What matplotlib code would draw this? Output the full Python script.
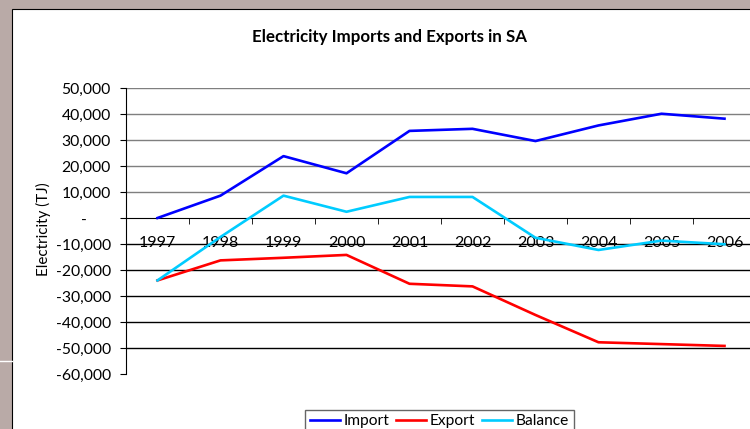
import numpy as np
import matplotlib
matplotlib.use("Agg")
import matplotlib.pyplot as plt
from matplotlib.ticker import FuncFormatter
from matplotlib.patches import Rectangle
from matplotlib.lines import Line2D

years = [1997, 1998, 1999, 2000, 2001, 2002, 2003, 2004, 2005, 2006]
imports = [0, 8600, 23800, 17200, 33500, 34300, 29600, 35600, 40100, 38200]
exports = [-24000, -16300, -15300, -14200, -25300, -26300, -37300, -47800, -48500, -49200]
balance = [-24000, -7300, 8600, 2400, 8100, 8100, -7600, -12300, -8700, -10100]

plt.rcParams['font.family'] = ['Lato', 'DejaVu Sans']

W, H = 750, 429
fig = plt.figure(figsize=(W / 100, H / 100), dpi=100)
fig.patch.set_facecolor('#b9aaa7')

# white chart area with thin black border (runs off the right/bottom edge)
fig.patches.append(Rectangle((12 / W, -0.1), 1.0, 1.1 - 9 / H, transform=fig.transFigure,
                             facecolor='white', edgecolor='black', lw=0.8, zorder=-5))
fig.add_artist(Line2D([0, 12 / W], [1 - 361 / H] * 2, color='white', lw=1, zorder=-4))

ax = fig.add_axes([126 / W, 1 - 374 / H, 630 / W, 286 / H])
ax.set_facecolor('none')

x = np.arange(len(years)) + 0.5
ax.plot(x, imports, color='#0000ff', lw=1.9, label='Import', zorder=3)
ax.plot(x, exports, color='#ff0000', lw=1.9, label='Export', zorder=3)
ax.plot(x, balance, color='#00ccff', lw=1.9, label='Balance', zorder=3)

ax.set_xlim(0, 10)
ax.set_ylim(-60000, 50000)
yt = list(range(-60000, 50001, 10000))
ax.set_yticks(yt)
ax.yaxis.set_major_formatter(FuncFormatter(lambda v, p: '-      ' if v == 0 else f'{v:,.0f}'))
for v in yt:
    if v != 0 and v != -60000:
        ax.axhline(v, color='#7f7f7f' if v > 0 else 'black', lw=1.0, zorder=1)

for s in ['top', 'right']:
    ax.spines[s].set_visible(False)
ax.spines['left'].set_color('black')
ax.spines['bottom'].set_position(('data', 0))
ax.spines['bottom'].set_color('black')

ax.set_xticks(x)
ax.set_xticklabels([str(y) for y in years])
ax.set_xticks(np.arange(0, 11), minor=True)
ax.tick_params(axis='x', which='major', length=0, pad=13, labelsize=11.5)
ax.tick_params(axis='x', which='minor', length=4, direction='out', color='black')
ax.tick_params(axis='y', length=4, direction='out', pad=7, labelsize=11.3, color='black')

fig.text(390 / W, 1 - 37 / H, 'Electricity Imports and Exports in SA',
         ha='center', va='center', fontsize=12.2, weight='bold')
fig.text(43 / W, 1 - 229 / H, 'Electricity (TJ)', rotation=90,
         ha='center', va='center', fontsize=11)

leg = fig.legend(loc='upper center', bbox_to_anchor=(439.5 / W, 1 - 402 / H), ncol=3,
                 frameon=True, fancybox=False, edgecolor='#404040', fontsize=11.2,
                 handlelength=1.9, columnspacing=0.45, handletextpad=0.25, borderpad=0.3)
leg.get_frame().set_linewidth(1.0)

fig.savefig('out.png', dpi=100)
